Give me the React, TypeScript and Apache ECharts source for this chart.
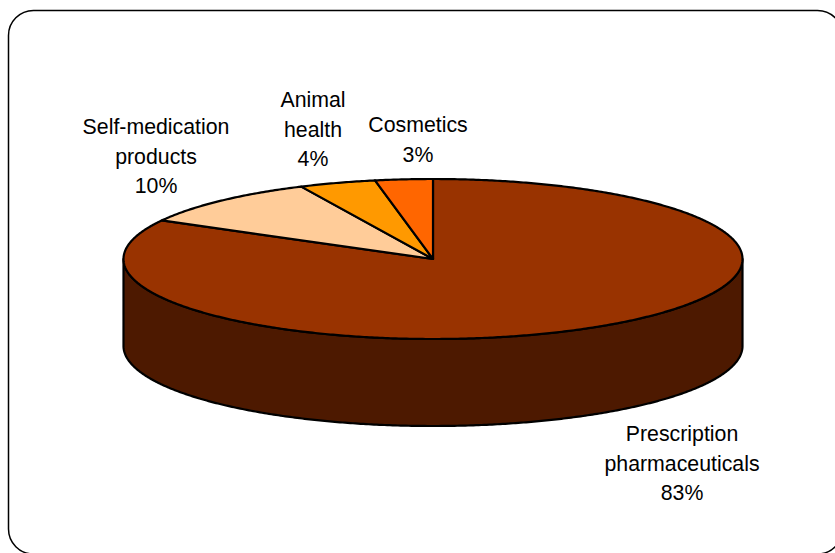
import React, { useEffect, useRef } from "react";
import * as echarts from "echarts";

const categories = ["Prescription\npharmaceuticals", "Self-medication\nproducts", "Animal\nhealth", "Cosmetics"];
const shares = [83, 10, 4, 3];
const topColors = ["#993300", "#FFCC99", "#FF9900", "#FF6600"];
const sideColors = ["#4D1900", "#806650", "#804D00", "#803300"];
const labelCenters = [
  [682, 419],
  [156, 112],
  [313, 85],
  [418, 110],
];

const CX = 433;
const CY = 259;
const RX = 309.5;
const RY = 80;
const DEPTH = 87;
const total = shares.reduce((a, b) => a + b, 0);

// angle measured clockwise from 12 o'clock
const rimPoint = (deg: number, dy = 0): number[] => {
  const r = (deg * Math.PI) / 180;
  return [CX + RX * Math.sin(r), CY - RY * Math.cos(r) + dy];
};

const arcPoints = (from: number, to: number, dy = 0): number[][] => {
  const steps = Math.max(2, Math.ceil(Math.abs(to - from) * 2));
  const pts: number[][] = [];
  for (let i = 0; i <= steps; i++) pts.push(rimPoint(from + ((to - from) * i) / steps, dy));
  return pts;
};

const renderSlice = (params: any, api: any) => {
  const i = params.dataIndex;
  const before = shares.slice(0, i).reduce((a, b) => a + b, 0);
  const start = (before / total) * 360;
  const end = start + (api.value(0) / total) * 360;
  const children: any[] = [];

  const wallFrom = Math.max(start, 90);
  const wallTo = Math.min(end, 270);
  if (wallTo > wallFrom) {
    children.push({
      type: "polygon",
      z2: 1,
      shape: { points: [...arcPoints(wallFrom, wallTo), ...arcPoints(wallTo, wallFrom, DEPTH)] },
      style: { fill: sideColors[i], stroke: "#000", lineWidth: 2.2, lineJoin: "round" },
    });
  }
  children.push({
    type: "polygon",
    z2: 2,
    shape: { points: [[CX, CY], ...arcPoints(start, end)] },
    style: { fill: topColors[i], stroke: "#000", lineWidth: 2.2, lineJoin: "round" },
  });
  const [lx, ly] = labelCenters[i];
  children.push({
    type: "text",
    z2: 3,
    x: lx,
    y: ly,
    style: {
      text: `${categories[i]}\n${api.value(0)}%`,
      fill: "#000",
      font: '21.3px "Liberation Sans", Arial, sans-serif',
      align: "center",
      verticalAlign: "top",
      lineHeight: 29.7,
    },
  });
  return { type: "group", children };
};

export default function App() {
  const ref = useRef<HTMLDivElement>(null);
  useEffect(() => {
    const chart = echarts.init(ref.current!, undefined, { renderer: "svg" });
    chart.setOption({
      animation: false,
      backgroundColor: "#fff",
      graphic: [
        {
          type: "rect",
          z: -1,
          shape: { x: 8.5, y: 10.5, width: 834, height: 543.5, r: 25 },
          style: { fill: "#fff", stroke: "#000", lineWidth: 1.5 },
        },
      ],
      series: [
        {
          type: "custom",
          coordinateSystem: "none",
          clip: false,
          renderItem: renderSlice,
          data: shares.map((v, i) => ({ name: categories[i], value: [v] })),
        },
      ],
    });
    return () => chart.dispose();
  }, []);
  return <div ref={ref} style={{ position: "fixed", left: 0, top: 0, width: 835, height: 553 }} />;
}
